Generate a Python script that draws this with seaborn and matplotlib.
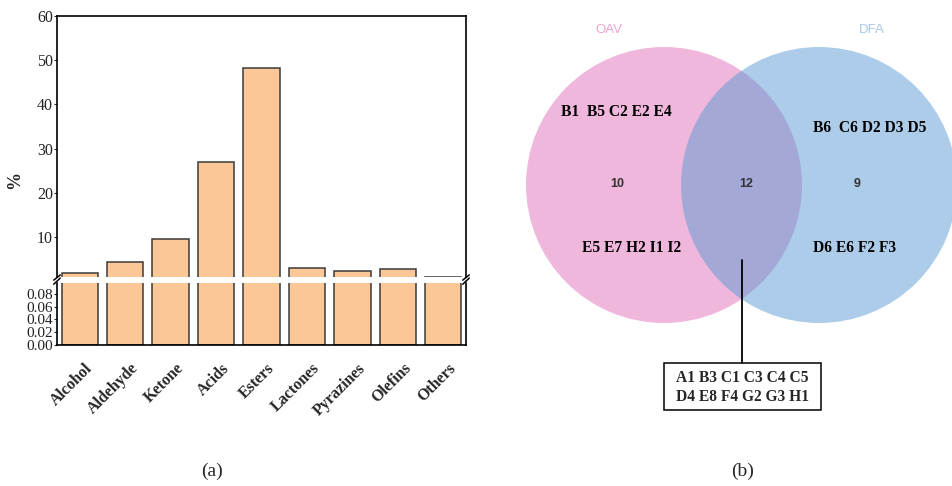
import matplotlib.pyplot as plt
import matplotlib.transforms as mtransforms
import seaborn as sns
from matplotlib.patches import Circle, Rectangle

# bar chart data (a)
categories = ["Alcohol", "Aldehyde", "Ketone", "Acids", "Esters",
              "Lactones", "Pyrazines", "Olefins", "Others"]
percent = [1.9, 4.3, 9.5, 26.9, 48.3, 3.1, 2.4, 2.9, 1.1]
upper_ticks = [10, 20, 30, 40, 50, 60]
lower_ticks = [0.00, 0.02, 0.04, 0.06, 0.08]

# venn data (b)
set_names = ["OAV", "DFA"]
oav_rows = ["B1  B5 C2 E2 E4", "E5 E7 H2 I1 I2"]
dfa_rows = ["B6  C6 D2 D3 D5", "D6 E6 F2 F3"]
shared_rows = ["A1 B3 C1 C3 C4 C5", "D4 E8 F4 G2 G3 H1"]

sns.set_style("ticks")
plt.rcParams['font.family'] = ['Liberation Serif', 'DejaVu Sans']

W, H = 952, 486
fig = plt.figure(figsize=(W / 100, H / 100), dpi=100)


def px_rect(x0, y0, x1, y1):
    # pixel box -> figure fraction [left, bottom, width, height]
    return [x0 / W, 1 - y1 / H, (x1 - x0) / W, (y1 - y0) / H]


bar_color = "#FBC797"
edge_color = "#3a3a3a"

ax_top = fig.add_axes(px_rect(57, 16, 466, 277))
ax_bot = fig.add_axes(px_rect(57, 283, 466, 345))

for ax in (ax_top, ax_bot):
    sns.barplot(x=categories, y=percent, color=bar_color, saturation=1,
                edgecolor=edge_color, linewidth=1.1, width=0.8, ax=ax)
    ax.set_xlim(-0.5, len(categories) - 0.5)
    ax.set_xlabel("")
    ax.set_ylabel("")
    for s in ax.spines.values():
        s.set_color("black")
        s.set_linewidth(1.2)

ax_top.set_ylim(1, 60)
ax_top.set_yticks(upper_ticks)
ax_top.set_yticklabels([str(t) for t in upper_ticks], fontsize=11.5, color="#222222")
ax_top.spines["bottom"].set_visible(False)
ax_top.tick_params(axis="x", bottom=False, labelbottom=False)
ax_top.tick_params(axis="y", length=2, pad=1)

ax_bot.set_ylim(0, 0.097)
ax_bot.set_yticks(lower_ticks)
ax_bot.set_yticklabels([f"{t:.2f}" for t in lower_ticks], fontsize=11, color="#222222")
ax_bot.spines["top"].set_visible(False)
ax_bot.tick_params(axis="y", length=2, pad=1)
ax_bot.tick_params(axis="x", length=0, pad=11)
ax_bot.set_xticks(range(len(categories)))
ax_bot.set_xticklabels(categories, rotation=45, ha="right", rotation_mode="anchor",
                       fontsize=11.5, fontweight="bold")
shift = mtransforms.ScaledTranslation(5 / 100, 0, fig.dpi_scale_trans)
for lab in ax_bot.get_xticklabels():
    lab.set_transform(lab.get_transform() + shift)

# break marks
d = 0.008
for x in (0, 1):
    ax_top.plot([x - d, x + d], [-0.012, 0.008], transform=ax_top.transAxes,
                color="black", lw=1.1, clip_on=False)
    ax_bot.plot([x - d, x + d], [0.98, 1.08], transform=ax_bot.transAxes,
                color="black", lw=1.1, clip_on=False)

fig.text(15 / W, 1 - 180 / H, "%", rotation=90, ha="center", va="center",
         fontsize=13, fontweight="bold")

# venn diagram drawn on a pixel-coordinate overlay
ov = fig.add_axes([0, 0, 1, 1], zorder=-1)
ov.set_xlim(0, W)
ov.set_ylim(H, 0)
ov.axis("off")

r = 138
ov.add_patch(Circle((664, 185), r, facecolor="#E171B9", alpha=0.5, lw=0))
ov.add_patch(Circle((819, 185), r, facecolor="#5B9BD5", alpha=0.5, lw=0))

ov.text(609, 30, set_names[0], color="#EBA3D2", fontsize=9.5,
        family="Liberation Sans", ha="center", va="center")
ov.text(872, 30, set_names[1], color="#A9C8E8", fontsize=9.5,
        family="Liberation Sans", ha="center", va="center")

n_oav = sum(len(row.split()) for row in oav_rows)
n_dfa = sum(len(row.split()) for row in dfa_rows)
n_shared = sum(len(row.split()) for row in shared_rows)

num_kw = dict(fontsize=9, family="Liberation Sans", fontweight="bold",
              color="#333333", ha="center", va="center")
ov.text(617, 184, str(n_oav), **num_kw)
ov.text(746, 184, str(n_shared), **num_kw)
ov.text(857, 184, str(n_dfa), **num_kw)

lab_kw = dict(fontsize=11.2, fontweight="bold", color="black", va="center", ha="left")
ov.text(561, 112, oav_rows[0], **lab_kw)
ov.text(582, 248, oav_rows[1], **lab_kw)
ov.text(813, 128, dfa_rows[0], **lab_kw)
ov.text(813, 248, dfa_rows[1], **lab_kw)

# leader line and box for shared items
ov.plot([742, 742], [260, 363], color="black", lw=1.3)
ov.add_patch(Rectangle((664, 363), 157, 47, facecolor="white", edgecolor="black", lw=1.1))
ov.text(742, 378, shared_rows[0], fontsize=11.2, fontweight="bold", ha="center", va="center")
ov.text(742, 397, shared_rows[1], fontsize=11.2, fontweight="bold", ha="center", va="center")

fig.text(212 / W, 1 - 471 / H, "(a)", fontsize=14, ha="center", va="center")
fig.text(743 / W, 1 - 471 / H, "(b)", fontsize=14, ha="center", va="center")

fig.savefig("out.png", dpi=100)
